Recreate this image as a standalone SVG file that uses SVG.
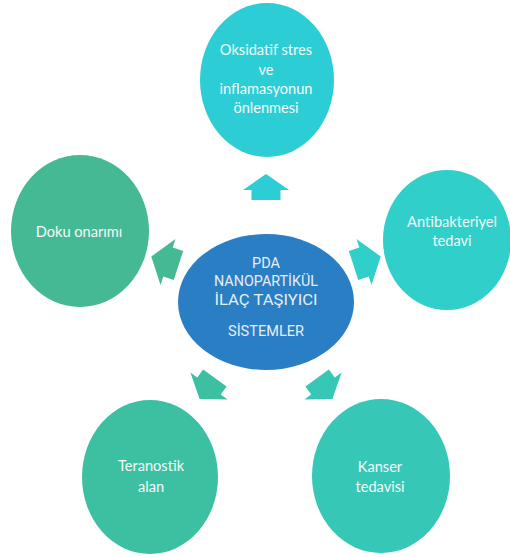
<svg xmlns="http://www.w3.org/2000/svg" xmlns:xlink="http://www.w3.org/1999/xlink" width="510" height="557" viewBox="0 0 510 557">
<style>
.t{font-family:Lato,"Open Sans","Liberation Sans",sans-serif;font-size:14.6px;fill:#F4FBF9;text-anchor:middle}
.c{font-family:Roboto,"Liberation Sans",sans-serif;font-size:15px;fill:#E6EFF8;text-anchor:middle}
</style>
<defs>
<path id="arr" d="M0,-16 L23,0 L14.5,0 L14.5,10 L-14.5,10 L-14.5,0 L-23,0 Z"/>
</defs>
<rect width="510" height="557" fill="#FFFFFF"/>
<g id="connectors">
<use xlink:href="#arr" href="#arr" transform="translate(266,190)" fill="#2DCDD6"/>
<use xlink:href="#arr" href="#arr" transform="translate(364,262) rotate(72) scale(1.05,1.1)" fill="#31CFCA"/>
<use xlink:href="#arr" href="#arr" transform="translate(168,262) rotate(-72) scale(1.05,1.1)" fill="#45B994"/>
<use xlink:href="#arr" href="#arr" transform="translate(209,386) rotate(216)" fill="#3DC0A2"/>
<use xlink:href="#arr" href="#arr" transform="translate(323,386) rotate(144)" fill="#37C7B6"/>
</g>
<g id="center">
<ellipse cx="266" cy="302" rx="88" ry="68" fill="#2A7EC3"/>
<text class="c" x="266" y="268" textLength="28" lengthAdjust="spacingAndGlyphs">PDA</text>
<text class="c" x="266" y="286" textLength="104" lengthAdjust="spacingAndGlyphs">NANOPARTİKÜL</text>
<text class="c" x="266" y="305" textLength="103" lengthAdjust="spacingAndGlyphs">İLAÇ TAŞIYICI</text>
<text class="c" x="266" y="336" textLength="76" lengthAdjust="spacingAndGlyphs">SİSTEMLER</text>
</g>
<g id="oksidatif">
<ellipse cx="267" cy="80" rx="67" ry="77" fill="#2DCDD6"/>
<text class="t" x="266" y="55">Oksidatif stres</text>
<text class="t" x="266" y="75">ve</text>
<text class="t" x="266" y="94">inflamasyonun</text>
<text class="t" x="266" y="113">önlenmesi</text>
</g>
<g id="antibakteriyel">
<ellipse cx="447" cy="240" rx="64" ry="70" fill="#31CFCA"/>
<text class="t" x="452" y="227">Antibakteriyel</text>
<text class="t" x="452" y="246">tedavi</text>
</g>
<g id="doku">
<ellipse cx="80" cy="231" rx="69" ry="76" fill="#45B994"/>
<text class="t" x="79" y="237">Doku onarımı</text>
</g>
<g id="teranostik">
<ellipse cx="150" cy="477" rx="68" ry="77" fill="#3DC0A2"/>
<text class="t" x="151" y="471">Teranostik</text>
<text class="t" x="151" y="492">alan</text>
</g>
<g id="kanser">
<ellipse cx="381" cy="476" rx="69" ry="77" fill="#37C7B6"/>
<text class="t" x="380" y="472">Kanser</text>
<text class="t" x="380" y="492">tedavisi</text>
</g>
</svg>
